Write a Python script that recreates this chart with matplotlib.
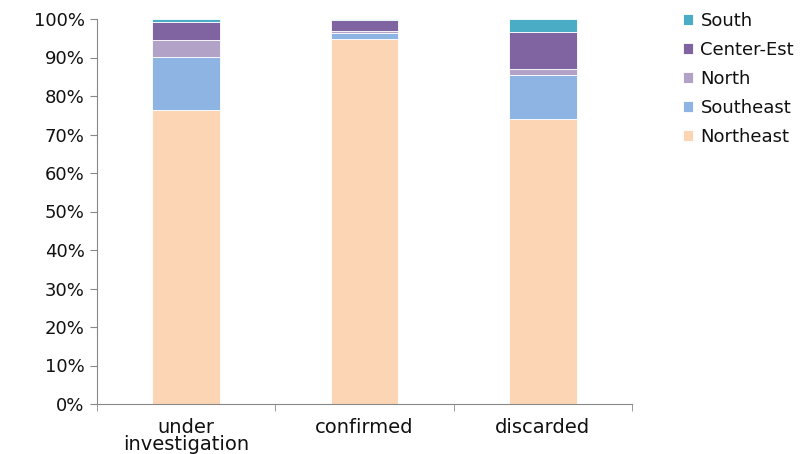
import numpy as np
import matplotlib.pyplot as plt
from matplotlib.ticker import FuncFormatter

# values (percent of each column)
categories = ['under\ninvestigation', 'confirmed', 'discarded']
regions = ['Northeast', 'Southeast', 'North', 'Center-Est', 'South']
northeast = [76.3, 94.7, 74.1]
southeast = [13.8, 1.7, 11.4]
north = [4.4, 0.6, 1.6]
center_est = [4.7, 2.7, 9.4]
south = [0.8, 0.3, 3.5]
colors = ['#FCD5B5', '#8EB4E3', '#B3A2C7', '#8064A2', '#4BACC6']

series = [northeast, southeast, north, center_est, south]

plt.rcParams['font.family'] = ['DejaVu Sans']
fig = plt.figure(figsize=(8.05, 4.54), dpi=100)
ax = fig.add_axes([97 / 805, 1 - 404 / 454, 535 / 805, 385 / 454])

x = np.arange(len(categories))
bottom = np.zeros(len(categories))
for name, vals, col in zip(regions, series, colors):
    ax.bar(x, vals, width=0.38, bottom=bottom, color=col, edgecolor='white',
           linewidth=0.6, label=name)
    bottom += np.array(vals)

ax.set_xlim(-0.5, len(categories) - 0.5)
ax.set_ylim(0, 100)
ax.set_yticks(np.arange(0, 101, 10))
ax.yaxis.set_major_formatter(FuncFormatter(lambda v, p: f'{int(v)}%'))
ax.set_xticks(x)
ax.set_xticklabels(categories, fontsize=14, linespacing=0.9, color='#111111')
ax.set_xticks(np.arange(-0.5, len(categories), 1), minor=True)
ax.tick_params(axis='x', which='major', length=0, pad=10)
ax.tick_params(axis='x', which='minor', length=5, color='#888888')
ax.tick_params(axis='y', length=5, color='#888888', labelsize=13, pad=4,
               labelcolor='#111111')
for s in ['top', 'right']:
    ax.spines[s].set_visible(False)
for s in ['left', 'bottom']:
    ax.spines[s].set_color('#888888')

handles, labels = ax.get_legend_handles_labels()
fig.legend(handles[::-1], labels[::-1], loc='upper left',
           bbox_to_anchor=(667 / 805, 1 + 4 / 454), frameon=False,
           fontsize=13, handlelength=0.55, handleheight=0.55,
           handletextpad=0.4, labelspacing=0.6, labelcolor='#111111')

fig.savefig('out.png', dpi=100)
